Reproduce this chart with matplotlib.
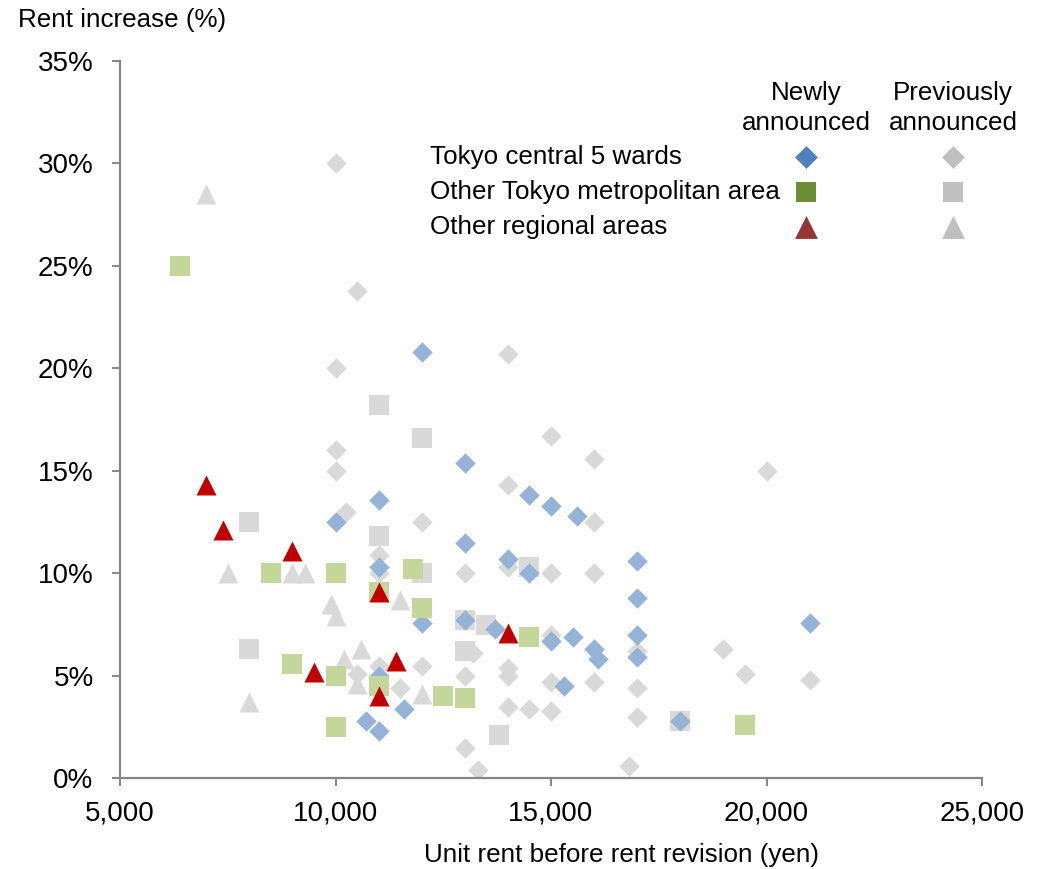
import matplotlib
matplotlib.use('Agg')
from matplotlib import pyplot as plt
from matplotlib.ticker import FuncFormatter

plt.rcParams['font.family'] = ['Liberation Sans', 'DejaVu Sans']

# Newly announced
tokyo5_new_x = [12000, 13000, 11000, 10000, 14500, 15000, 15600, 13000, 17000, 17000,
                11000, 14000, 14500, 12000, 13000, 13700, 15000, 15500, 16000, 16100,
                17000, 17000, 15300, 18000, 11600, 10700, 11000, 11000, 21000]
tokyo5_new_y = [20.8, 15.4, 13.6, 12.5, 13.8, 13.3, 12.8, 11.5, 10.6, 8.8,
                10.3, 10.7, 10.0, 7.6, 7.7, 7.3, 6.7, 6.9, 6.3, 5.8,
                7.0, 5.9, 4.5, 2.8, 3.4, 2.8, 2.3, 5.0, 7.6]

metro_new_x = [6400, 8500, 10000, 11000, 11800, 12000, 9000, 10000, 11000, 10000,
               12500, 13000, 14500, 19500]
metro_new_y = [25.0, 10.0, 10.0, 9.1, 10.2, 8.3, 5.6, 5.0, 4.5, 2.5,
               4.0, 3.9, 6.9, 2.6]

region_new_x = [7000, 7400, 9000, 11000, 9500, 11400, 11000, 14000]
region_new_y = [14.3, 12.1, 11.1, 9.1, 5.2, 5.7, 4.0, 7.1]

# Previously announced
tokyo5_prev_x = [10000, 10500, 14000, 10000, 10000, 10000, 15000, 16000, 20000, 14000,
                 10250, 12000, 16000, 11000, 11000, 13000, 14000, 15000, 16000, 15000,
                 13200, 17000, 19000, 19500, 21000, 12000, 14000, 14000, 13000, 15000,
                 16000, 17000, 11500, 14000, 14500, 15000, 17000, 13000, 13300, 16800,
                 11000, 10500]
tokyo5_prev_y = [30.0, 23.8, 20.7, 20.0, 16.0, 15.0, 16.7, 15.6, 15.0, 14.3,
                 13.0, 12.5, 12.5, 10.9, 10.0, 10.0, 10.3, 10.0, 10.0, 7.0,
                 6.1, 6.2, 6.3, 5.1, 4.8, 5.5, 5.4, 5.0, 5.0, 4.7,
                 4.7, 4.4, 4.4, 3.5, 3.4, 3.3, 3.0, 1.5, 0.4, 0.6,
                 5.5, 5.1]

metro_prev_x = [11000, 12000, 11000, 8000, 8000, 12000, 13000, 13500, 14500, 13000,
                13800, 18000]
metro_prev_y = [18.2, 16.6, 11.8, 12.5, 6.3, 10.0, 7.7, 7.5, 10.3, 6.2,
                2.1, 2.8]

region_prev_x = [7000, 7500, 9000, 9300, 9900, 10000, 11500, 10600, 10200, 10500,
                 8000, 12000]
region_prev_y = [28.5, 10.0, 10.0, 10.0, 8.5, 7.9, 8.7, 6.3, 5.8, 4.6,
                 3.7, 4.1]

series_labels = ['Tokyo central 5 wards', 'Other Tokyo metropolitan area', 'Other regional areas']

fig = plt.figure(figsize=(10.42, 8.69), dpi=100)
ax = fig.add_axes([120 / 1042, 1 - 778.3 / 869, 862 / 1042, 717.3 / 869])

# grey points first, coloured ones on top
gray = '#D9D9D9'
ax.scatter(tokyo5_prev_x, tokyo5_prev_y, marker='D', s=108, color=gray, linewidths=0, zorder=2)
ax.scatter(metro_prev_x, metro_prev_y, marker='s', s=228, color=gray, linewidths=0, zorder=2)
ax.scatter(region_prev_x, region_prev_y, marker='^', s=207, color=gray, linewidths=0, zorder=2)
ax.scatter(tokyo5_new_x, tokyo5_new_y, marker='D', s=108, color='#95B3D7', linewidths=0, zorder=3)
ax.scatter(metro_new_x, metro_new_y, marker='s', s=228, color='#C4D79B', linewidths=0, zorder=4)
ax.scatter(region_new_x, region_new_y, marker='^', s=207, color='#C00000', linewidths=0, zorder=5)

ax.set_xlim(5000, 25000)
ax.set_ylim(0, 35)
ax.set_xticks(range(5000, 25001, 5000))
ax.set_yticks(range(0, 36, 5))
ax.xaxis.set_major_formatter(FuncFormatter(lambda v, p: f'{int(v):,}'))
ax.yaxis.set_major_formatter(FuncFormatter(lambda v, p: f'{int(v)}%'))

for side in ['top', 'right']:
    ax.spines[side].set_visible(False)
for side in ['left', 'bottom']:
    ax.spines[side].set_color('#868686')
    ax.spines[side].set_linewidth(1.6)
ax.tick_params(axis='both', colors='#868686', labelcolor='black', labelsize=20,
               length=6, width=1.4, direction='out')
ax.tick_params(axis='y', pad=13)
ax.tick_params(axis='x', pad=10)

# axis titles
fig.text(18 / 1042, 1 - 20 / 869, 'Rent increase (%)', fontsize=18.7, ha='left', va='center')
fig.text(621 / 1042, 1 - 855 / 869, 'Unit rent before rent revision (yen)', fontsize=18.7,
         ha='center', va='center')

# hand-made legend, drawn in pixel coordinates on an overlay
lax = fig.add_axes([0, 0, 1, 1], zorder=10)
lax.set_xlim(0, 1042)
lax.set_ylim(869, 0)
lax.axis('off')

lax.text(806, 93, 'Newly', fontsize=18.7, ha='center', va='center')
lax.text(806, 123, 'announced', fontsize=18.7, ha='center', va='center')
lax.text(953, 93, 'Previously', fontsize=18.7, ha='center', va='center')
lax.text(953, 123, 'announced', fontsize=18.7, ha='center', va='center')

row_y = [157, 192, 227]
markers = ['D', 's', '^']
sizes = [135, 200, 270]
new_colors = ['#4F81BD', '#6B8E35', '#943634']
for label, yy, m, sz, c in zip(series_labels, row_y, markers, sizes, new_colors):
    lax.text(430, yy, label, fontsize=18.7, ha='left', va='center')
    lax.scatter([806], [yy], marker=m, s=sz, color=c, linewidths=0)
    lax.scatter([953], [yy], marker=m, s=sz, color='#BFBFBF', linewidths=0)

plt.savefig('out.png', dpi=100)
